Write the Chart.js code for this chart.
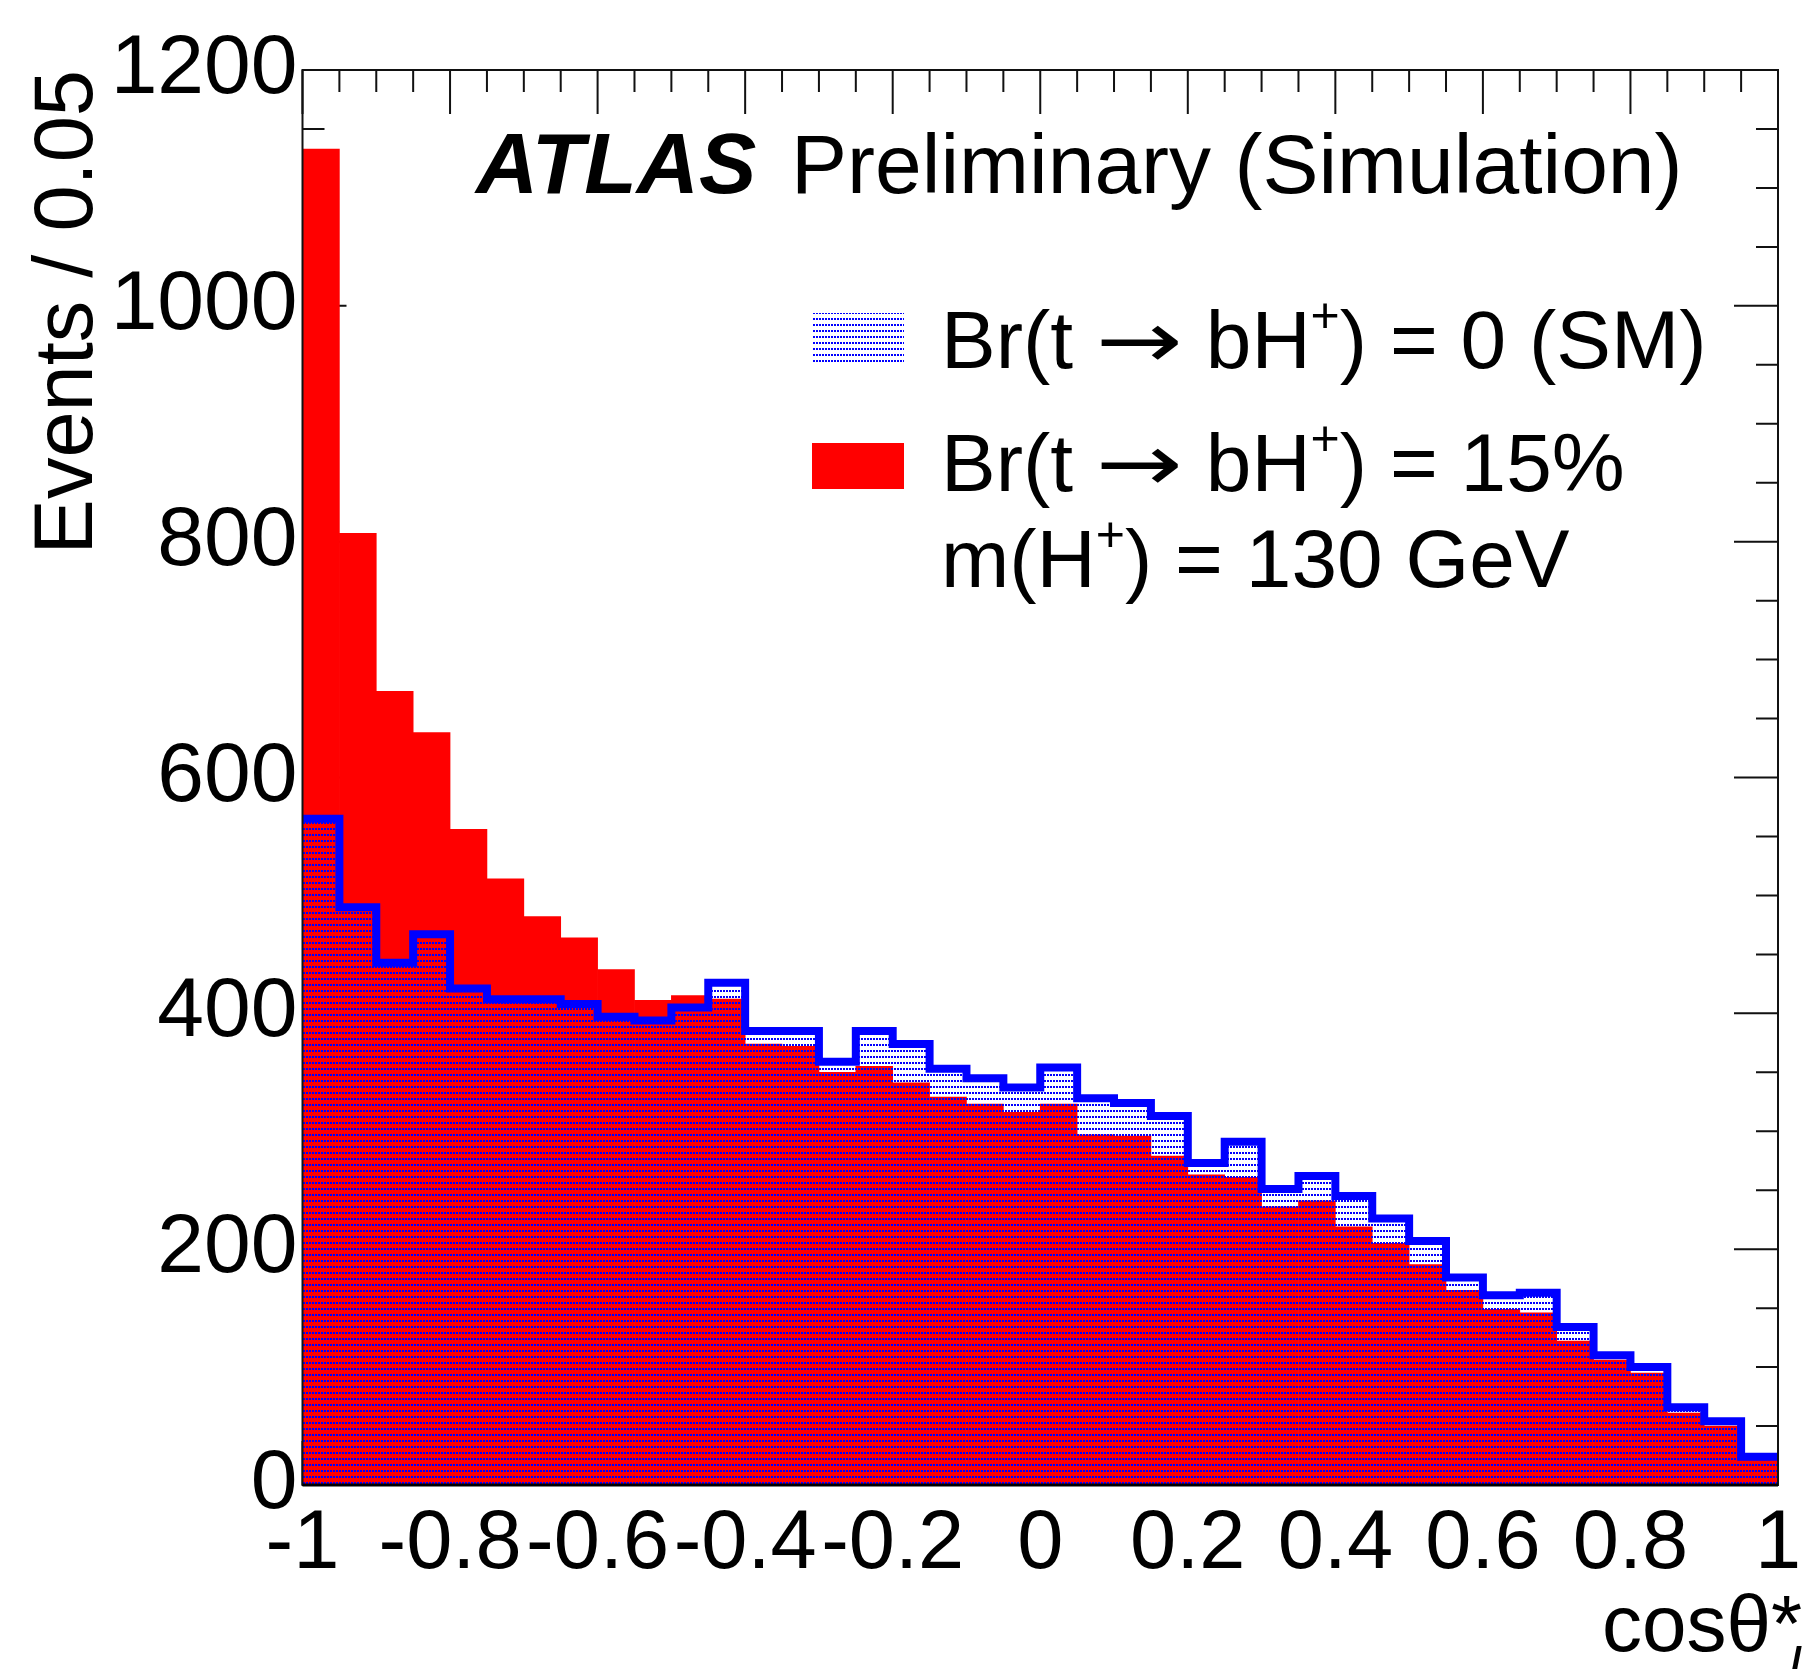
<!DOCTYPE html>
<html>
<head>
<meta charset="utf-8">
<script src="https://cdn.jsdelivr.net/npm/chart.js@4.4.1/dist/chart.umd.min.js"></script>
<style>
  html, body { margin: 0; padding: 0; background: #fff; }
  #wrap { width: 1803px; height: 1669px; }
</style>
</head>
<body>
<div id="wrap"><canvas id="c" width="1803" height="1669"></canvas></div>
<script>
// cos(theta*) bins, width 0.05
const binLowEdges = [-1, -0.95, -0.9, -0.85, -0.8, -0.75, -0.7, -0.65, -0.6, -0.55,
    -0.5, -0.45, -0.4, -0.35, -0.3, -0.25, -0.2, -0.15, -0.1, -0.05,
    0, 0.05, 0.1, 0.15, 0.2, 0.25, 0.3, 0.35, 0.4, 0.45,
    0.5, 0.55, 0.6, 0.65, 0.7, 0.75, 0.8, 0.85, 0.9, 0.95];
const binUpperEdge = 1;

// Br(t -> bH+) = 15%, m(H+) = 130 GeV
const signalEvents = [1133, 807, 673, 638, 556, 514, 482, 464, 437, 411,
    415, 412, 374, 372, 350, 355, 341, 329, 323, 316,
    323, 297, 296, 279, 263, 261, 236, 241, 219, 205,
    187, 165, 149, 146, 122, 106, 95, 61, 50, 21];

// Br(t -> bH+) = 0 (SM)
const smEvents = [565, 490, 443, 467, 421, 412, 412, 408, 397, 394,
    405, 426, 385, 385, 359, 385, 374, 353, 345, 337,
    354, 328, 324, 313, 273, 291, 251, 262, 245, 226,
    207, 176, 161, 163, 134, 110, 100, 66, 54, 24];

const xTickValues = [-1, -0.8, -0.6, -0.4, -0.2, 0, 0.2, 0.4, 0.6, 0.8, 1];
const xTickLabels = ['-1', '-0.8', '-0.6', '-0.4', '-0.2', '0', '0.2', '0.4', '0.6', '0.8', '1'];
const yTickValues = [0, 200, 400, 600, 800, 1000, 1200];
const yTickLabels = ['0', '200', '400', '600', '800', '1000', '1200'];
const yMinorTicks = [0, 50, 100, 150, 200, 250, 300, 350, 400, 450, 500, 550, 600,
    650, 700, 750, 800, 850, 900, 950, 1000, 1050, 1100, 1150, 1200];

const FONT = '"Liberation Sans", Arial, Helvetica, sans-serif';
const BLUE = '#0000ff';
const RED = '#ff0000';

const canvas = document.getElementById('c');
const ctx = canvas.getContext('2d');

// ROOT style dotted fill
const hatchTile = document.createElement('canvas');
hatchTile.width = 9;
hatchTile.height = 6;
const tctx = hatchTile.getContext('2d');
tctx.fillStyle = BLUE;
for (let i = 0; i < 9; i += 3) tctx.fillRect(i, 0, 2, 2);
const hatch = ctx.createPattern(hatchTile, 'repeat');

const binCenter = (i) => (binLowEdges[i] + (i + 1 < binLowEdges.length ? binLowEdges[i + 1] : binUpperEdge)) / 2;

const signalBars = signalEvents.map((v, i) => ({ x: binCenter(i), y: v }));
const smBars = smEvents.map((v, i) => ({ x: binCenter(i), y: v }));
const smOutline = binLowEdges.map((e, i) => ({ x: e, y: smEvents[i] }))
    .concat([{ x: binUpperEdge, y: smEvents[smEvents.length - 1] }]);

// text runs with superscripts; sx stretches a run horizontally
const drawRich = (c, x, y, parts) => {
    let cx = x;
    parts.forEach(p => {
        c.font = p.font;
        const sx = p.sx || 1;
        c.save();
        c.translate(cx, y + (p.dy || 0));
        c.scale(sx, 1);
        c.fillText(p.text, 0, 0);
        c.restore();
        cx += c.measureText(p.text).width * sx;
    });
};

const rootStyle = {
    id: 'rootStyle',
    beforeDatasetsDraw(chart) {
        const { ctx: c, chartArea: a, scales: { x, y } } = chart;
        c.save();
        c.strokeStyle = '#111';
        c.lineWidth = 2;
        c.beginPath();
        [...binLowEdges, binUpperEdge].forEach(v => {
            const px = x.getPixelForValue(v);
            const len = xTickValues.some(t => Math.abs(t - v) < 1e-9) ? 44 : 22;
            c.moveTo(px, a.bottom); c.lineTo(px, a.bottom - len);
            c.moveTo(px, a.top); c.lineTo(px, a.top + len);
        });
        yMinorTicks.forEach(v => {
            const py = y.getPixelForValue(v);
            const len = yTickValues.includes(v) ? 44 : 22;
            c.moveTo(a.left, py); c.lineTo(a.left + len, py);
            c.moveTo(a.right, py); c.lineTo(a.right - len, py);
        });
        c.stroke();
        c.restore();
    },
    afterDatasetsDraw(chart) {
        const { ctx: c, chartArea: a } = chart;
        c.save();
        c.strokeStyle = '#111';
        c.lineWidth = 2;
        c.strokeRect(a.left, a.top, a.right - a.left, a.bottom - a.top);
        c.lineWidth = 3;
        c.strokeStyle = '#000';
        c.beginPath();
        c.moveTo(a.left, a.bottom); c.lineTo(a.right, a.bottom);
        c.stroke();

        c.fillStyle = '#000';
        c.textAlign = 'left';
        c.textBaseline = 'alphabetic';

        // ATLAS label
        c.font = 'italic bold 86px ' + FONT;
        c.fillText('ATLAS', 476, 193);
        c.font = '84px ' + FONT;
        c.fillText('Preliminary (Simulation)', 791, 193);

        // legend
        c.fillStyle = hatch;
        c.fillRect(812, 313, 92, 50);
        c.fillStyle = RED;
        c.fillRect(812, 443, 92, 46);

        c.fillStyle = '#000';
        const big = '82px ' + FONT;
        const sup = '50px ' + FONT;
        const arrow = '80px "DejaVu Sans", sans-serif';
        drawRich(c, 941, 368, [
            { text: 'Br(t ', font: big }, { text: '\u2192', font: arrow, sx: 1.3 }, { text: ' bH', font: big },
            { text: '+', font: sup, dy: -36 }, { text: ') = 0 (SM)', font: big }
        ]);
        drawRich(c, 941, 491, [
            { text: 'Br(t ', font: big }, { text: '\u2192', font: arrow, sx: 1.3 }, { text: ' bH', font: big },
            { text: '+', font: sup, dy: -36 }, { text: ') = 15%', font: big }
        ]);
        drawRich(c, 941, 587, [
            { text: 'm(H', font: big }, { text: '+', font: sup, dy: -36 },
            { text: ') = 130 GeV', font: big }
        ]);

        // x axis title
        c.font = '80px ' + FONT;
        c.fillText('cos\u03b8*', 1602, 1651);
        c.font = 'italic 56px ' + FONT;
        c.fillText('l', 1788, 1686);
        c.restore();
    }
};

new Chart(ctx, {
    type: 'bar',
    data: {
        datasets: [{
            type: 'line',
            label: 'Br(t \u2192 bH+) = 0 (SM) outline',
            data: smOutline,
            borderColor: BLUE,
            borderWidth: 8,
            borderJoinStyle: 'miter',
            stepped: 'before',
            pointRadius: 0,
            fill: false,
            order: 0
        }, {
            label: 'Br(t \u2192 bH+) = 0 (SM)',
            data: smBars,
            backgroundColor: hatch,
            borderWidth: 0,
            barPercentage: 1,
            categoryPercentage: 1,
            grouped: false,
            order: 1
        }, {
            label: 'Br(t \u2192 bH+) = 15%',
            data: signalBars,
            backgroundColor: RED,
            borderWidth: 0,
            barPercentage: 1,
            categoryPercentage: 1,
            grouped: false,
            order: 2
        }]
    },
    options: {
        responsive: false,
        animation: false,
        devicePixelRatio: 1,
        layout: {
            padding: { left: 0, top: 70, right: 25, bottom: 0 }
        },
        scales: {
            x: {
                type: 'linear',
                position: 'bottom',
                min: -1,
                max: 1,
                offset: false,
                grid: { display: false, drawTicks: false, offset: false },
                border: { display: false },
                afterBuildTicks: (scale) => {
                    scale.ticks = xTickValues.map(v => ({ value: v }));
                },
                afterFit: (scale) => {
                    scale.height = 184;
                    scale.paddingLeft = 0;
                    scale.paddingRight = 0;
                },
                ticks: {
                    autoSkip: false,
                    maxRotation: 0,
                    padding: 10,
                    color: '#000',
                    font: { family: FONT, size: 83 },
                    callback: (value) => xTickLabels[xTickValues.indexOf(value)]
                }
            },
            y: {
                type: 'linear',
                min: 0,
                max: 1200,
                grid: { display: false, drawTicks: false },
                border: { display: false },
                afterBuildTicks: (scale) => {
                    scale.ticks = yTickValues.map(v => ({ value: v }));
                },
                afterFit: (scale) => {
                    scale.width = 302.5;
                    scale.paddingTop = 0;
                    scale.paddingBottom = 0;
                },
                ticks: {
                    padding: 5,
                    color: '#000',
                    font: { family: FONT, size: 84 },
                    callback: (value) => yTickLabels[yTickValues.indexOf(value)]
                },
                title: {
                    display: true,
                    text: 'Events / 0.05',
                    align: 'end',
                    color: '#000',
                    font: { family: FONT, size: 83 },
                    padding: { top: 19, bottom: 0 }
                }
            }
        },
        plugins: {
            legend: { display: false },
            tooltip: { enabled: false }
        }
    },
    plugins: [rootStyle]
});
</script>
</body>
</html>
